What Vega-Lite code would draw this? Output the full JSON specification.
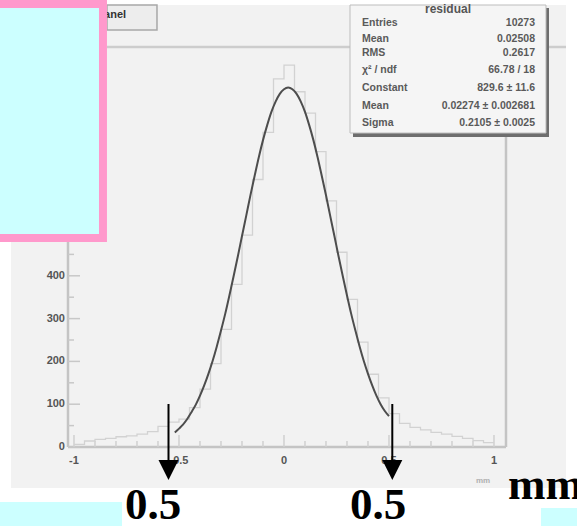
{
  "$schema": "https://vega.github.io/schema/vega-lite/v6.json",
  "width": 577,
  "height": 526,
  "autosize": "none",
  "padding": 0,
  "background": "#ffffff",
  "config": {"view": {"stroke": null}},
  "datasets": {
    "panel": [{"x": -1.3, "x2": 1.3429, "y": 1032.7, "y2": -95.8}],
    "sepline": [{"x": -0.843, "x2": 1.3429, "y": 934.6, "y2": 934.6}],
    "button": [{"x": -0.843, "x2": -0.6048, "y": 1032.7, "y2": 974.3}],
    "buttontext": [{"x": -0.752, "y": 1010, "label": "Panel"}],
    "frame": [
      {"x": -1.0286, "x2": -1.0286, "y": 0, "y2": 934.6},
      {"x": -1.0286, "x2": 1.0571, "y": 0, "y2": 0},
      {"x": 1.0571, "x2": 1.0571, "y": 0, "y2": 934.6}
    ],
    "yticks": [
      {"x": -1.0286, "x2": -0.9714, "y": 0, "y2": 0},
      {"x": -1.0286, "x2": -1.0, "y": 50, "y2": 50},
      {"x": -1.0286, "x2": -0.9714, "y": 100, "y2": 100},
      {"x": -1.0286, "x2": -1.0, "y": 150, "y2": 150},
      {"x": -1.0286, "x2": -0.9714, "y": 200, "y2": 200},
      {"x": -1.0286, "x2": -1.0, "y": 250, "y2": 250},
      {"x": -1.0286, "x2": -0.9714, "y": 300, "y2": 300},
      {"x": -1.0286, "x2": -1.0, "y": 350, "y2": 350},
      {"x": -1.0286, "x2": -0.9714, "y": 400, "y2": 400},
      {"x": -1.0286, "x2": -1.0, "y": 450, "y2": 450},
      {"x": -1.0286, "x2": -0.9714, "y": 500, "y2": 500},
      {"x": -1.0286, "x2": -0.9714, "y": 600, "y2": 600},
      {"x": -1.0286, "x2": -0.9714, "y": 700, "y2": 700},
      {"x": -1.0286, "x2": -0.9714, "y": 800, "y2": 800}
    ],
    "xticks": [
      {"x": -1.0, "x2": -1.0, "y": 0, "y2": 28},
      {"x": -0.9, "x2": -0.9, "y": 0, "y2": 14},
      {"x": -0.8, "x2": -0.8, "y": 0, "y2": 14},
      {"x": -0.7, "x2": -0.7, "y": 0, "y2": 14},
      {"x": -0.6, "x2": -0.6, "y": 0, "y2": 14},
      {"x": -0.5, "x2": -0.5, "y": 0, "y2": 28},
      {"x": -0.4, "x2": -0.4, "y": 0, "y2": 14},
      {"x": -0.3, "x2": -0.3, "y": 0, "y2": 14},
      {"x": -0.2, "x2": -0.2, "y": 0, "y2": 14},
      {"x": -0.1, "x2": -0.1, "y": 0, "y2": 14},
      {"x": 0.0, "x2": 0.0, "y": 0, "y2": 28},
      {"x": 0.1, "x2": 0.1, "y": 0, "y2": 14},
      {"x": 0.2, "x2": 0.2, "y": 0, "y2": 14},
      {"x": 0.3, "x2": 0.3, "y": 0, "y2": 14},
      {"x": 0.4, "x2": 0.4, "y": 0, "y2": 14},
      {"x": 0.5, "x2": 0.5, "y": 0, "y2": 28},
      {"x": 0.6, "x2": 0.6, "y": 0, "y2": 14},
      {"x": 0.7, "x2": 0.7, "y": 0, "y2": 14},
      {"x": 0.8, "x2": 0.8, "y": 0, "y2": 14},
      {"x": 0.9, "x2": 0.9, "y": 0, "y2": 14},
      {"x": 1.0, "x2": 1.0, "y": 0, "y2": 28}
    ],
    "ylabels": [
      {"x": -1.0429, "y": 0, "label": "0"},
      {"x": -1.0429, "y": 100, "label": "100"},
      {"x": -1.0429, "y": 200, "label": "200"},
      {"x": -1.0429, "y": 300, "label": "300"},
      {"x": -1.0429, "y": 400, "label": "400"},
      {"x": -1.0429, "y": 500, "label": "500"},
      {"x": -1.0429, "y": 600, "label": "600"},
      {"x": -1.0429, "y": 700, "label": "700"},
      {"x": -1.0429, "y": 800, "label": "800"}
    ],
    "xlabels": [
      {"x": -1.0, "y": -32.7, "label": "-1"},
      {"x": -0.5, "y": -32.7, "label": "-0.5"},
      {"x": 0.0, "y": -32.7, "label": "0"},
      {"x": 0.5, "y": -32.7, "label": "0.5"},
      {"x": 1.0, "y": -32.7, "label": "1"}
    ],
    "hist": [
      {"x": -1.0, "y": 6}, {"x": -0.95, "y": 14}, {"x": -0.9, "y": 18}, {"x": -0.85, "y": 20},
      {"x": -0.8, "y": 24}, {"x": -0.75, "y": 26}, {"x": -0.7, "y": 30}, {"x": -0.65, "y": 36},
      {"x": -0.6, "y": 48}, {"x": -0.55, "y": 58}, {"x": -0.5, "y": 65}, {"x": -0.45, "y": 92},
      {"x": -0.4, "y": 135}, {"x": -0.35, "y": 195}, {"x": -0.3, "y": 275}, {"x": -0.25, "y": 380},
      {"x": -0.2, "y": 495}, {"x": -0.15, "y": 625}, {"x": -0.1, "y": 735}, {"x": -0.05, "y": 860},
      {"x": 0.0, "y": 892}, {"x": 0.05, "y": 830}, {"x": 0.1, "y": 780}, {"x": 0.15, "y": 690},
      {"x": 0.2, "y": 575}, {"x": 0.25, "y": 455}, {"x": 0.3, "y": 345}, {"x": 0.35, "y": 245},
      {"x": 0.4, "y": 170}, {"x": 0.45, "y": 115}, {"x": 0.5, "y": 78}, {"x": 0.55, "y": 55},
      {"x": 0.6, "y": 46}, {"x": 0.65, "y": 40}, {"x": 0.7, "y": 34}, {"x": 0.75, "y": 30},
      {"x": 0.8, "y": 25}, {"x": 0.85, "y": 20}, {"x": 0.9, "y": 15}, {"x": 0.95, "y": 10},
      {"x": 1.0, "y": 10}
    ],
    "fit": [
      {"x": -0.52, "y": 34}, {"x": -0.5, "y": 43}, {"x": -0.48, "y": 53}, {"x": -0.46, "y": 66},
      {"x": -0.44, "y": 82}, {"x": -0.42, "y": 99}, {"x": -0.4, "y": 120}, {"x": -0.38, "y": 144},
      {"x": -0.36, "y": 171}, {"x": -0.34, "y": 201}, {"x": -0.32, "y": 235}, {"x": -0.3, "y": 272},
      {"x": -0.28, "y": 311}, {"x": -0.26, "y": 354}, {"x": -0.24, "y": 399}, {"x": -0.22, "y": 445},
      {"x": -0.2, "y": 493}, {"x": -0.18, "y": 540}, {"x": -0.16, "y": 588}, {"x": -0.14, "y": 633},
      {"x": -0.12, "y": 677}, {"x": -0.1, "y": 717}, {"x": -0.08, "y": 752}, {"x": -0.06, "y": 783},
      {"x": -0.04, "y": 807}, {"x": -0.02, "y": 825}, {"x": 0.0, "y": 836}, {"x": 0.02, "y": 840},
      {"x": 0.04, "y": 836}, {"x": 0.06, "y": 825}, {"x": 0.08, "y": 807}, {"x": 0.1, "y": 783},
      {"x": 0.12, "y": 752}, {"x": 0.14, "y": 717}, {"x": 0.16, "y": 677}, {"x": 0.18, "y": 633},
      {"x": 0.2, "y": 588}, {"x": 0.22, "y": 540}, {"x": 0.24, "y": 493}, {"x": 0.26, "y": 445},
      {"x": 0.28, "y": 399}, {"x": 0.3, "y": 354}, {"x": 0.32, "y": 311}, {"x": 0.34, "y": 272},
      {"x": 0.36, "y": 235}, {"x": 0.38, "y": 201}, {"x": 0.4, "y": 171}, {"x": 0.42, "y": 144},
      {"x": 0.44, "y": 120}, {"x": 0.46, "y": 100}, {"x": 0.48, "y": 84}, {"x": 0.5, "y": 72}
    ],
    "statshadow": [{"x": 0.3286, "x2": 1.2619, "y": 1025.7, "y2": 724.3}],
    "statbox": [{"x": 0.3143, "x2": 1.2476, "y": 1032.7, "y2": 733.6}],
    "stattitle": [{"x": 0.781, "y": 1023.4, "label": "residual"}],
    "statlabels": [
      {"x": 0.3714, "y": 990.7, "label": "Entries"},
      {"x": 0.3714, "y": 953.3, "label": "Mean"},
      {"x": 0.3714, "y": 920.6, "label": "RMS"},
      {"x": 0.3714, "y": 880.8, "label": "χ² / ndf"},
      {"x": 0.3714, "y": 838.8, "label": "Constant"},
      {"x": 0.3714, "y": 796.7, "label": "Mean"},
      {"x": 0.3714, "y": 757.0, "label": "Sigma"}
    ],
    "statvalues": [
      {"x": 1.1952, "y": 990.7, "label": "10273"},
      {"x": 1.1952, "y": 953.3, "label": "0.02508"},
      {"x": 1.1952, "y": 920.6, "label": "0.2617"},
      {"x": 1.1952, "y": 880.8, "label": "66.78 / 18"},
      {"x": 1.1952, "y": 838.8, "label": "829.6 ± 11.6"},
      {"x": 1.1952, "y": 796.7, "label": "0.02274 ± 0.002681"},
      {"x": 1.1952, "y": 757.0, "label": "0.2105 ± 0.0025"}
    ],
    "xtitle": [{"x": 0.9476, "y": -79.4, "label": "mm"}],
    "arrowlines": [
      {"x": -0.55, "x2": -0.55, "y": 100.5, "y2": -40},
      {"x": 0.5157, "x2": 0.5157, "y": 100.5, "y2": -40}
    ],
    "arrowheads": [
      {"x": -0.55, "y": -53.7},
      {"x": 0.5157, "y": -53.7}
    ],
    "pink": [{"x": -1.4, "x2": -0.843, "y": 1050, "y2": 479}],
    "cyanbox": [{"x": -1.4, "x2": -0.881, "y": 1025.7, "y2": 497.7}],
    "cyanbottom": [
      {"x": -1.4, "x2": -0.7714, "y": -128.5, "y2": -195},
      {"x": 1.2238, "x2": 1.45, "y": -142.5, "y2": -195}
    ],
    "bigtext": [
      {"x": -0.7571, "y": -168.2, "label": "0.5"},
      {"x": 0.3143, "y": -168.2, "label": "0.5"},
      {"x": 1.0667, "y": -121.5, "label": "mm"}
    ]
  },
  "encoding": {
    "x": {"field": "x", "type": "quantitative", "scale": {"domain": [-1.35238, 1.39524], "nice": false, "zero": false}, "axis": null},
    "y": {"field": "y", "type": "quantitative", "scale": {"domain": [-184.58, 1044.39], "nice": false, "zero": false}, "axis": null}
  },
  "layer": [
    {"data": {"name": "panel"}, "mark": {"type": "rect", "fill": "#f2f2f2"},
     "encoding": {"x2": {"field": "x2"}, "y2": {"field": "y2"}}},
    {"data": {"name": "sepline"}, "mark": {"type": "rule", "stroke": "#cdcdcd", "strokeWidth": 2.5},
     "encoding": {"x2": {"field": "x2"}, "y2": {"field": "y2"}}},
    {"data": {"name": "button"}, "mark": {"type": "rect", "fill": "#ededed", "stroke": "#a8a8a8", "strokeWidth": 1.5},
     "encoding": {"x2": {"field": "x2"}, "y2": {"field": "y2"}}},
    {"data": {"name": "buttontext"}, "mark": {"type": "text", "align": "right", "baseline": "middle", "font": "Liberation Sans", "fontSize": 11, "fontWeight": "bold", "fill": "#333333"},
     "encoding": {"text": {"field": "label"}}},
    {"data": {"name": "frame"}, "mark": {"type": "rule", "stroke": "#c4c4c4", "strokeWidth": 2.5},
     "encoding": {"x2": {"field": "x2"}, "y2": {"field": "y2"}}},
    {"data": {"name": "yticks"}, "mark": {"type": "rule", "stroke": "#c8c8c8", "strokeWidth": 1.5},
     "encoding": {"x2": {"field": "x2"}, "y2": {"field": "y2"}}},
    {"data": {"name": "xticks"}, "mark": {"type": "rule", "stroke": "#d0d0d0", "strokeWidth": 1.5},
     "encoding": {"x2": {"field": "x2"}, "y2": {"field": "y2"}}},
    {"data": {"name": "ylabels"}, "mark": {"type": "text", "align": "right", "baseline": "middle", "font": "Liberation Sans", "fontSize": 11, "fontWeight": "bold", "fill": "#555555"},
     "encoding": {"text": {"field": "label"}}},
    {"data": {"name": "xlabels"}, "mark": {"type": "text", "align": "center", "baseline": "middle", "font": "Liberation Sans", "fontSize": 11, "fontWeight": "bold", "fill": "#555555"},
     "encoding": {"text": {"field": "label"}}},
    {"data": {"name": "hist"}, "mark": {"type": "line", "interpolate": "step-after", "stroke": "#d2d2d2", "strokeWidth": 1.3},
     "encoding": {}},
    {"data": {"name": "fit"}, "mark": {"type": "line", "interpolate": "monotone", "stroke": "#4d4d4d", "strokeWidth": 2},
     "encoding": {}},
    {"data": {"name": "statshadow"}, "mark": {"type": "rect", "fill": "#6e6e6e"},
     "encoding": {"x2": {"field": "x2"}, "y2": {"field": "y2"}}},
    {"data": {"name": "statbox"}, "mark": {"type": "rect", "fill": "#f5f5f5", "stroke": "#bdbdbd", "strokeWidth": 1},
     "encoding": {"x2": {"field": "x2"}, "y2": {"field": "y2"}}},
    {"data": {"name": "stattitle"}, "mark": {"type": "text", "align": "center", "baseline": "middle", "font": "Liberation Sans", "fontSize": 12, "fontWeight": "bold", "fill": "#555555"},
     "encoding": {"text": {"field": "label"}}},
    {"data": {"name": "statlabels"}, "mark": {"type": "text", "align": "left", "baseline": "middle", "font": "Liberation Sans", "fontSize": 10.5, "fontWeight": "bold", "fill": "#5a5a5a"},
     "encoding": {"text": {"field": "label"}}},
    {"data": {"name": "statvalues"}, "mark": {"type": "text", "align": "right", "baseline": "middle", "font": "Liberation Sans", "fontSize": 10.5, "fontWeight": "bold", "fill": "#5a5a5a"},
     "encoding": {"text": {"field": "label"}}},
    {"data": {"name": "xtitle"}, "mark": {"type": "text", "align": "center", "baseline": "middle", "font": "Liberation Sans", "fontSize": 8, "fontWeight": "bold", "fill": "#b0b0b0"},
     "encoding": {"text": {"field": "label"}}},
    {"data": {"name": "arrowlines"}, "mark": {"type": "rule", "stroke": "#000000", "strokeWidth": 2},
     "encoding": {"x2": {"field": "x2"}, "y2": {"field": "y2"}}},
    {"data": {"name": "arrowheads"}, "mark": {"type": "point", "shape": "M-1,-1L1,-1L0,1Z", "filled": true, "fill": "#000000", "stroke": null, "size": 400, "opacity": 1},
     "encoding": {}},
    {"data": {"name": "pink"}, "mark": {"type": "rect", "fill": "#ff99cc"},
     "encoding": {"x2": {"field": "x2"}, "y2": {"field": "y2"}}},
    {"data": {"name": "cyanbox"}, "mark": {"type": "rect", "fill": "#ccffff"},
     "encoding": {"x2": {"field": "x2"}, "y2": {"field": "y2"}}},
    {"data": {"name": "cyanbottom"}, "mark": {"type": "rect", "fill": "#ccffff"},
     "encoding": {"x2": {"field": "x2"}, "y2": {"field": "y2"}}},
    {"data": {"name": "bigtext"}, "mark": {"type": "text", "align": "left", "baseline": "alphabetic", "font": "Liberation Serif", "fontSize": 45, "fontWeight": "bold", "fill": "#000000"},
     "encoding": {"text": {"field": "label"}}}
  ]
}
